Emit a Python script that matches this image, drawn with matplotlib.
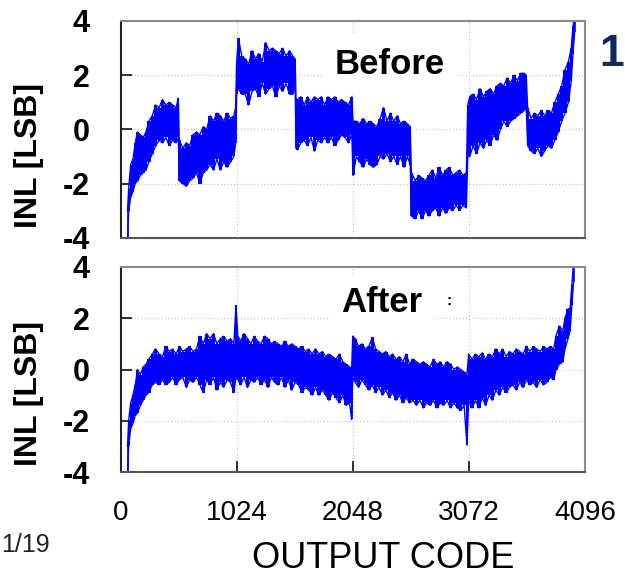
import numpy as np
from matplotlib import pyplot as plt

# INL measurement of the 12-bit ADC: for every output code the trace
# spans from a low to a high value (envelope of the measured curve)

# Before calibration
before_code = [62, 72, 90, 110, 130, 150, 175, 200, 225, 250, 280, 310, 340, 370, 400, 430, 460, 490, 510,
               518, 550, 580, 610, 640, 670, 700, 730, 760, 790, 820, 850, 880, 910, 940, 970, 1000, 1015,
               1024, 1040, 1070, 1100, 1130, 1160, 1190, 1220, 1250, 1280, 1310, 1340, 1370, 1400, 1430,
               1460, 1490, 1520, 1540,
               1548, 1560, 1590, 1620, 1650, 1680, 1710, 1740, 1770, 1800, 1830, 1860, 1890, 1920, 1950,
               1980, 2010, 2040,
               2050, 2080, 2110, 2140, 2170, 2200, 2230, 2260, 2290, 2320, 2350, 2380, 2410, 2440, 2470,
               2500, 2530, 2555,
               2565, 2600, 2630, 2660, 2690, 2720, 2750, 2780, 2810, 2840, 2870, 2900, 2930, 2960, 2990,
               3020, 3050,
               3062, 3080, 3110, 3140, 3170, 3200, 3230, 3260, 3290, 3320, 3350, 3380, 3410, 3440, 3470,
               3500, 3530, 3560, 3578,
               3590, 3620, 3650, 3680, 3710, 3740, 3770, 3800, 3830, 3860, 3890, 3920, 3950, 3975, 3990, 4005]
before_lo = [-4.2, -3.0, -2.5, -2.3, -2.0, -1.9, -1.7, -1.6, -1.5, -1.2, -0.9, -0.6, -0.4, -0.5, -0.3, -0.6,
             -0.4, -0.5, -0.3,
             -1.9, -2.0, -2.1, -1.9, -1.8, -1.6, -2.0, -1.6, -1.5, -1.3, -1.5, -1.1, -1.5, -1.2, -1.4, -1.2,
             -1.0, -0.5,
             1.3, 1.5, 1.3, 1.3, 0.9, 1.4, 1.5, 1.2, 1.7, 1.3, 1.5, 1.6, 1.2, 1.6, 1.4, 1.7, 1.3, 1.3, 1.6,
             -0.7, -0.75, -0.5, -0.4, -0.6, -0.3, -0.8, -0.4, -0.5, -0.3, -0.5, -0.3, -0.6, -0.4, -0.2,
             -0.3, -0.5, -0.2,
             -1.7, -1.0, -1.2, -1.4, -1.1, -1.3, -1.4, -1.3, -1.0, -1.1, -0.9, -1.2, -1.0, -1.3, -1.0,
             -1.4, -1.0, -1.3,
             -3.2, -3.3, -3.0, -3.3, -3.0, -3.2, -3.0, -2.9, -3.2, -2.9, -3.1, -2.9, -3.0, -2.8, -3.0,
             -2.8, -2.9,
             -1.0, -1.0, -0.6, -0.9, -0.5, -0.7, -0.4, -0.6, -0.2, -0.4, 0.0, 0.3, 0.1, 0.3, 0.4, 0.5,
             0.6, 0.7, 0.8,
             -0.6, -0.8, -0.9, -0.7, -1.0, -0.8, -0.6, -0.7, -0.4, -0.1, 0.3, 0.6, 1.0, 1.8, 2.8, 3.6]
before_hi = [-3.0, -2.2, -1.3, -1.1, -0.5, -0.1, -0.2, -0.3, -0.1, 0.3, 0.5, 0.9, 0.8, 1.1, 0.9, 1.0, 0.9,
             0.8, 1.15,
             -0.4, -0.7, -0.5, -0.6, -0.2, -0.1, -0.2, 0.1, 0.0, 0.5, 0.3, 0.6, 0.5, 0.3, 0.6, 0.4, 0.5,
             0.8,
             2.5, 3.36, 2.7, 2.6, 2.4, 2.9, 2.6, 2.8, 2.5, 3.2, 2.9, 3.0, 2.9, 2.8, 3.0, 2.7, 2.9, 2.7, 2.6,
             1.1, 1.1, 1.2, 0.9, 1.2, 1.0, 1.2, 1.1, 1.2, 0.9, 1.2, 1.1, 1.2, 1.0, 1.1, 1.0, 0.9, 1.2,
             0.3, 0.3, 0.2, 0.4, 0.2, 0.3, 0.2, 0.1, 0.4, 0.8, 0.3, 0.6, 0.3, 0.5, 0.2, 0.3, 0.2, 0.1,
             -1.6, -1.9, -1.7, -1.8, -1.9, -1.7, -1.5, -1.8, -1.4, -1.7, -1.5, -1.4, -1.7, -1.6, -1.5,
             -1.7, -1.6,
             0.9, 1.2, 1.3, 1.1, 1.5, 1.2, 1.4, 1.5, 1.3, 1.6, 1.7, 1.6, 1.9, 1.7, 2.0, 1.8, 2.07, 2.07,
             2.0,
             0.8, 0.4, 0.6, 0.5, 0.7, 0.5, 0.7, 0.6, 1.0, 1.3, 1.6, 2.2, 2.5, 3.0, 3.8, 4.2]

# After calibration
after_code = [62, 72, 90, 110, 130, 150, 175, 200, 225, 250, 280, 310, 340, 370, 400, 430, 460, 490, 520,
              550, 580, 610, 640, 670, 700, 730, 760, 790, 820, 850, 880, 910, 940, 970, 1000, 1018, 1035,
              1060, 1090, 1120, 1150, 1180, 1210, 1240, 1270, 1300, 1330, 1360, 1390, 1420, 1450, 1480,
              1510, 1540, 1570, 1600, 1630, 1660, 1690, 1720, 1750, 1780, 1810, 1840, 1870, 1900, 1930,
              1960, 1990, 2020, 2038,
              2048, 2070, 2100, 2130, 2160, 2190, 2220, 2250, 2280, 2310, 2340, 2370, 2400, 2430, 2460,
              2490, 2520, 2550, 2580, 2610, 2640, 2670, 2700, 2730, 2760, 2790, 2820, 2850, 2880, 2910,
              2940, 2970, 3000, 3030, 3055,
              3070, 3100, 3130, 3160, 3190, 3220, 3250, 3280, 3310, 3340, 3370, 3400, 3430, 3460, 3490,
              3520, 3550, 3580, 3610, 3640, 3670, 3700, 3730, 3760, 3790, 3820, 3840, 3870, 3900, 3920,
              3945, 3965, 3980, 3995]
after_lo = [-4.2, -3.0, -2.3, -2.1, -1.8, -1.7, -1.4, -1.2, -1.0, -0.9, -0.6, -0.5, -0.6, -0.4, -0.6, -0.5,
            -0.3, -0.6, -0.4, -0.3, -0.7, -0.4, -0.5, -0.3, -0.6, -0.9, -0.4, -0.6, -0.3, -0.8, -0.5, -0.7,
            -0.4, -0.5, -0.9, -0.3, -0.4, -0.6, -0.3, -0.7, -0.4, -0.5, -0.3, -0.6, -0.4, -0.7, -0.3, -0.5,
            -0.6, -0.3, -0.7, -0.4, -0.8, -0.5, -0.6, -0.9, -0.7, -0.8, -1.0, -0.7, -1.0, -0.8, -1.0, -1.2,
            -0.9, -1.1, -1.3, -1.0, -1.4, -1.3, -1.95,
            -0.3, -0.5, -0.7, -0.4, -0.6, -0.8, -0.6, -0.9, -0.7, -1.0, -0.8, -1.1, -0.9, -1.2, -1.0, -1.3,
            -1.1, -1.3, -1.2, -1.4, -1.2, -1.5, -1.3, -1.4, -1.2, -1.5, -1.3, -1.4, -1.2, -1.5, -1.3, -1.5,
            -1.6, -1.4, -2.95,
            -1.2, -1.5, -1.2, -1.5, -1.1, -1.4, -1.0, -1.2, -0.8, -1.0, -0.7, -0.9, -0.7, -0.6, -0.8, -0.5,
            -0.7, -0.4, -0.6, -0.5, -0.7, -0.4, -0.6, -0.5, -0.3, -0.4, 0.0, 0.2, 0.3, 0.8, 1.2, 1.5, 2.5,
            3.4]
after_hi = [-3.0, -2.0, -1.3, -1.0, -0.6, 0.0, -0.2, 0.1, 0.2, 0.4, 0.6, 0.8, 0.6, 0.5, 0.9, 0.7, 0.8, 0.6,
            0.9, 0.7, 0.8, 0.9, 0.7, 0.8, 1.3, 1.0, 1.4, 1.2, 1.4, 1.0, 1.2, 1.3, 1.1, 1.2, 1.0, 2.5, 1.3,
            1.1, 1.4, 1.2, 1.0, 1.3, 1.1, 1.0, 1.3, 1.2, 1.0, 1.1, 1.0, 0.9, 1.1, 0.9, 1.0, 0.9, 0.8, 0.9,
            0.7, 0.8, 0.6, 0.8, 0.6, 0.7, 0.5, 0.6, 0.5, 0.4, 0.6, 0.3, 0.2, 0.1, 0.0,
            1.3, 1.2, 0.9, 1.0, 0.8, 0.9, 1.25, 0.8, 0.7, 0.6, 0.7, 0.5, 0.6, 0.4, 0.5, 0.3, 0.6, 0.2,
            0.4, 0.3, 0.2, 0.3, 0.2, 0.1, 0.4, 0.2, 0.3, 0.1, 0.3, 0.2, 0.0, 0.1, 0.0, -0.1, -0.2,
            0.6, 0.4, 0.6, 0.5, 0.65, 0.4, 0.6, 0.5, 0.8, 0.6, 0.8, 0.5, 0.7, 0.6, 0.8, 0.7, 0.6, 0.9, 0.7,
            0.9, 0.8, 0.7, 0.9, 0.8, 0.9, 0.8, 1.3, 1.7, 1.5, 2.0, 2.35, 2.4, 3.3, 4.2]

x_ticks = [0, 1024, 2048, 3072, 4096]
y_ticks = [-4, -2, 0, 2, 4]

plt.rcParams['font.family'] = ['Liberation Sans', 'DejaVu Sans']

W, H = 625, 577
fig = plt.figure(figsize=(W / 100, H / 100), dpi=100)


# одна панель INL: огибающая трассы, сетка, подпись
def drawPanel(rect, code, lo, hi, label, label_xy, show_x):
    ax = fig.add_axes(rect)
    code = np.array(code)
    # столбики от минимума до максимума, как у плотной шумной трассы
    ax.fill_between(code, lo, hi, step='mid', color='#0000ff', linewidth=0, zorder=2)
    ax.plot(code, lo, color='#0000ff', linewidth=1.0, zorder=2)
    ax.plot(code, hi, color='#0000ff', linewidth=1.0, zorder=2)
    ax.vlines(code, lo, hi, color='#0000ff', linewidth=1.2, zorder=2)

    ax.set_xlim(0, 4096)
    ax.set_ylim(-4, 4)
    ax.set_xticks(x_ticks)
    ax.set_yticks(y_ticks)
    ax.set_yticklabels([str(v) for v in y_ticks], fontsize=22, fontweight='bold')
    ax.tick_params(axis='y', direction='in', length=8, width=1.3, pad=22, color='#222222')
    if show_x:
        ax.set_xticklabels([str(v) for v in x_ticks], fontsize=20)
        ax.tick_params(axis='x', direction='in', length=8, width=1.3, pad=20, color='#222222')
    else:
        ax.set_xticklabels([])
        ax.tick_params(axis='x', length=0)

    # пунктирная сетка только внутри
    for gx in x_ticks[1:-1]:
        ax.axvline(gx, color='#c8c8c8', linestyle=':', linewidth=0.9, zorder=1)
    for gy in y_ticks[1:-1]:
        ax.axhline(gy, color='#c8c8c8', linestyle=':', linewidth=0.9, zorder=1)

    ax.spines['left'].set_color('#222222')
    ax.spines['bottom'].set_color('#555555')
    ax.spines['top'].set_color('#8a8a8a')
    ax.spines['right'].set_color('#8a8a8a')
    for s in ax.spines.values():
        s.set_linewidth(1.5)

    ax.text(label_xy[0], label_xy[1], label, transform=fig.transFigure, fontsize=25,
            fontweight='bold', ha='center', va='center', zorder=3,
            bbox=dict(boxstyle='square,pad=0.35', facecolor='white', edgecolor='none'))
    return ax


def px(x, y):
    return (x / W, 1 - y / H)


top = drawPanel([120.5 / W, 1 - 237.7 / H, 464.5 / W, 216.7 / H],
                before_code, before_lo, before_hi, 'Before', px(390, 64), False)
bot = drawPanel([120.5 / W, 1 - 472 / H, 464.5 / W, 205 / H],
                after_code, after_lo, after_hi, 'After', px(382, 303), True)

# обрывок символа справа от "After"
fig.text(*px(449, 301), ':', fontsize=11, fontweight='bold', ha='center', va='center')

# подписи осей
fig.text(*px(29, 155), 'INL [LSB]', rotation=90, fontsize=23, fontweight='bold',
         ha='center', va='center')
fig.text(*px(29, 394), 'INL [LSB]', rotation=90, fontsize=23, fontweight='bold',
         ha='center', va='center')
fig.text(*px(383, 558), 'OUTPUT CODE', fontsize=26, ha='center', va='center')

# остатки слайда по краям
fig.text(*px(599, 55), '1', fontsize=32, fontweight='bold', color='#13285c', ha='left', va='center')
fig.text(*px(1, 545), '1/19', fontsize=18, color='#222222', ha='left', va='center')

fig.savefig('out.png', dpi=100)
